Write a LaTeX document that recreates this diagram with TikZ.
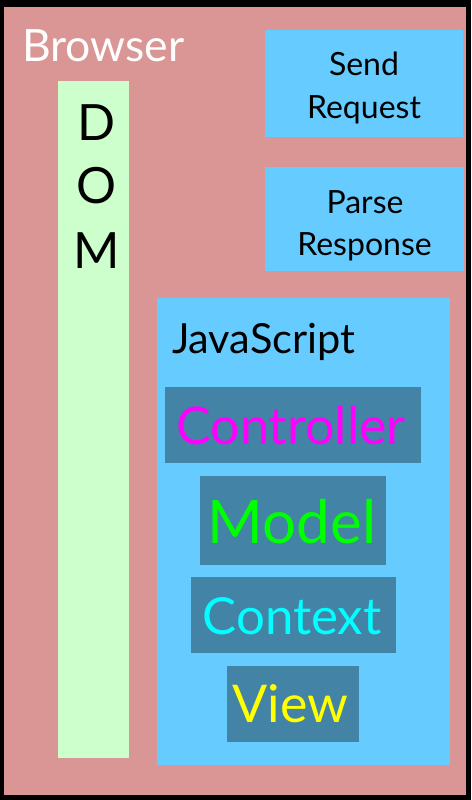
\documentclass[tikz,border=0pt]{standalone}
\usepackage{fontspec}
\setmainfont{Lato}
\definecolor{pinkbg}{HTML}{D99694}
\definecolor{domgreen}{HTML}{CCFFCC}
\definecolor{skyblue}{HTML}{66CCFF}
\definecolor{tealbox}{HTML}{4383A6}
\definecolor{txtmagenta}{HTML}{FF00FF}
\definecolor{txtgreen}{HTML}{00FF00}
\definecolor{txtcyan}{HTML}{00FFFF}
\definecolor{txtyellow}{HTML}{FFFF00}
\tikzset{
  area/.style={fill=#1, draw=none, inner sep=0pt, outer sep=0pt},
  lbl/.style={inner sep=0pt, outer sep=0pt, anchor=base},
  lblw/.style={inner sep=0pt, outer sep=0pt, anchor=base west},
}
\newcommand{\fs}[1]{\fontsize{#1}{#1}\selectfont}
\begin{document}
\begin{tikzpicture}[x=1pt,y=-1pt]
\useasboundingbox (0,0) rectangle (471,800);
\fill[black] (0,0) rectangle (471,800);
% containers
\path[area=pinkbg] (4,7) rectangle (466,795);
\node[area=domgreen, minimum width=71pt, minimum height=677pt] (dom) at (93.5,419.5) {};
\node[area=skyblue, minimum width=198pt, minimum height=107pt] (send) at (364,83.5) {};
\node[area=skyblue, minimum width=199pt, minimum height=104pt] (parse) at (364.5,219) {};
\node[area=skyblue, minimum width=293pt, minimum height=467pt] (js) at (303.5,531.5) {};
\node[area=tealbox, minimum width=256pt, minimum height=76pt] (ctrl) at (293,425) {};
\node[area=tealbox, minimum width=186pt, minimum height=89pt] (model) at (293,520.5) {};
\node[area=tealbox, minimum width=205pt, minimum height=76pt] (ctx) at (293.5,615) {};
\node[area=tealbox, minimum width=132pt, minimum height=76pt] (view) at (293,704) {};
% texts
\node[lblw, text=white] (tbrowser) at (22,62) {\fs{44.5}Browser};
\node[lbl] (td) at (97,140) {\fs{50}D};
\node[lbl] (to) at (97,203) {\fs{50}O};
\node[lbl] (tm) at (97,268) {\fs{50}M};
\node[lbl] (tsend) at (364,75) {\fs{32}Send};
\node[lbl] (treq) at (364,118) {\fs{32}Request};
\node[lbl] (tparse) at (365,213) {\fs{32}Parse};
\node[lbl] (tresp) at (364.5,255) {\fs{32}Response};
\node[lblw] (tjs) at (172,353) {\fs{41.5}JavaScript};
\node[lbl, text=txtmagenta] (tctrl) at (291,444) {\fs{52}Controller};
\node[lbl, text=txtgreen] (tmodel) at (292,543) {\fs{60}Model};
\node[lbl, text=txtcyan] (tctx) at (292,634) {\fs{51}Context};
\node[lbl, text=txtyellow] (tview) at (290.5,722) {\fs{52}View};
\end{tikzpicture}
\end{document}
